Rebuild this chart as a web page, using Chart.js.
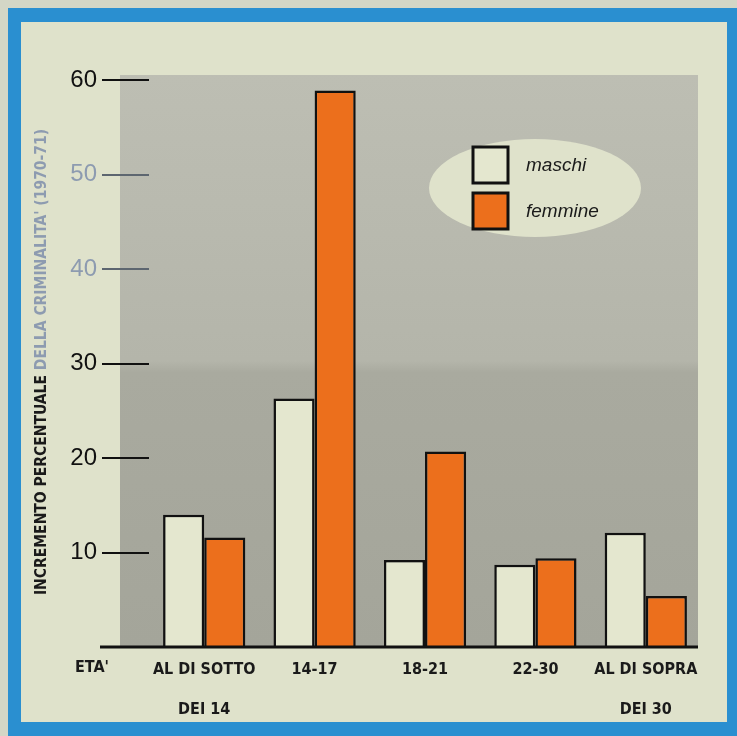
<!DOCTYPE html>
<html>
<head>
<meta charset="utf-8">
<script src="https://cdn.jsdelivr.net/npm/chart.js@4.4.1/dist/chart.umd.min.js"></script>
<style>
    html, body { margin: 0; padding: 0; background: #2a8fd0; }
    #wrap { width: 737px; height: 736px; }
</style>
</head>
<body>
<div id="wrap"><canvas id="crimeChart" width="737" height="736"></canvas></div>
<script>
// Age groups (two-line labels as printed)
const ageGroups = [
    ['AL DI SOTTO', 'DEI 14'],
    ['14-17'],
    ['18-21'],
    ['22-30'],
    ['AL DI SOPRA', 'DEI 30']
];

// Percentage increase 1970-71
const maschi = [14.0, 26.3, 9.2, 8.7, 12.1];
const femmine = [11.6, 58.9, 20.7, 9.4, 5.4];

const yTicks = [10, 20, 30, 40, 50, 60];
const fadedTicks = [40, 50];

const condensed = "'Liberation Sans Narrow', 'DejaVu Sans Condensed', 'DejaVu Sans', sans-serif";

/**
 * Paper, frame, grey panel, baseline, legend and side texts
 */
const paperPlugin = {
    id: 'paper',
    beforeDraw(chart) {
        const { ctx, chartArea, scales } = chart;
        const w = chart.width, h = chart.height;
        ctx.save();
        // outer edge + blue frame
        ctx.fillStyle = '#d3d6c6';
        ctx.fillRect(0, 0, w, h);
        ctx.fillStyle = '#2a8fd0';
        ctx.fillRect(8, 8, w - 8, h - 8);
        ctx.fillStyle = '#dfe2cb';
        ctx.fillRect(21, 22, 706, 700);

        // grey panel behind the bars
        const y0 = scales.y.getPixelForValue(0);
        const top = chartArea.top - 5;
        const grad = ctx.createLinearGradient(0, top, 0, y0);
        grad.addColorStop(0, '#bdbeb3');
        grad.addColorStop(0.5, '#b4b5aa');
        grad.addColorStop(0.52, '#a9aa9f');
        grad.addColorStop(1, '#a4a59a');
        ctx.fillStyle = grad;
        ctx.fillRect(chartArea.left - 29, top, chartArea.right - 3 - (chartArea.left - 29), y0 - top);
        ctx.restore();
    },
    afterDraw(chart) {
        const { ctx, chartArea, scales } = chart;
        const y0 = scales.y.getPixelForValue(0);
        ctx.save();

        // baseline
        ctx.strokeStyle = '#111';
        ctx.lineWidth = 3;
        ctx.beginPath();
        ctx.moveTo(chartArea.left - 49, y0);
        ctx.lineTo(chartArea.right - 3, y0);
        ctx.stroke();

        // ETA' label
        ctx.fillStyle = '#1a1a1a';
        ctx.font = 'bold 16px ' + condensed;
        ctx.textAlign = 'center';
        ctx.textBaseline = 'middle';
        ctx.fillText("ETA'", 92, 668);

        // y title, partly faded on the paper
        ctx.translate(42, 362);
        ctx.rotate(-Math.PI / 2);
        ctx.font = 'bold 15.5px ' + condensed;
        const partA = 'INCREMENTO PERCENTUALE ';
        const partB = "DELLA CRIMINALITA' (1970-71)";
        const wa = ctx.measureText(partA).width;
        const wb = ctx.measureText(partB).width;
        const start = -(wa + wb) / 2;
        ctx.textAlign = 'left';
        ctx.fillStyle = '#1a1a1a';
        ctx.fillText(partA, start, 0);
        ctx.fillStyle = '#8d9bb0';
        ctx.fillText(partB, start + wa, 0);
        ctx.restore();

        // legend ellipse
        ctx.save();
        ctx.fillStyle = '#dfe2cb';
        ctx.beginPath();
        ctx.ellipse(535, 188, 106, 49, 0, 0, Math.PI * 2);
        ctx.fill();
        const items = chart.data.datasets;
        items.forEach((ds, i) => {
            const y = 147 + i * 46;
            ctx.fillStyle = ds.backgroundColor;
            ctx.fillRect(473, y, 35, 36);
            ctx.strokeStyle = '#111';
            ctx.lineWidth = 3;
            ctx.strokeRect(473, y, 35, 36);
            ctx.fillStyle = '#1a1a1a';
            ctx.font = 'italic 19px Liberation Sans, Arial, sans-serif';
            ctx.textAlign = 'left';
            ctx.textBaseline = 'middle';
            ctx.fillText(ds.label, 526, y + 19);
        });
        ctx.restore();
    }
};

const ctx = document.getElementById('crimeChart');

new Chart(ctx, {
    type: 'bar',
    data: {
        labels: ageGroups,
        datasets: [
            {
                label: 'maschi',
                data: maschi,
                backgroundColor: '#e4e7cf',
                borderColor: '#111',
                borderWidth: 2.5,
                borderSkipped: 'bottom'
            },
            {
                label: 'femmine',
                data: femmine,
                backgroundColor: '#ec6f1c',
                borderColor: '#111',
                borderWidth: 2.5,
                borderSkipped: 'bottom'
            }
        ]
    },
    options: {
        responsive: false,
        animation: false,
        devicePixelRatio: 1,
        layout: {
            padding: { top: 80, right: 36, bottom: 0, left: 0 }
        },
        datasets: {
            bar: {
                categoryPercentage: 0.745,
                barPercentage: 1.0
            }
        },
        plugins: {
            legend: { display: false },
            tooltip: { enabled: false }
        },
        scales: {
            x: {
                grid: { display: false },
                border: { display: false },
                ticks: {
                    color: '#1a1a1a',
                    padding: -5,
                    maxRotation: 0,
                    autoSkip: false,
                    font: { family: condensed, size: 16, weight: 'bold', lineHeight: 2.5 }
                },
                afterFit(scale) {
                    scale.height = 89;
                }
            },
            y: {
                min: 0,
                max: 60,
                afterBuildTicks(scale) {
                    scale.ticks = [0].concat(yTicks).map(v => ({ value: v }));
                },
                afterFit(scale) {
                    scale.width = 149;
                },
                border: { display: false },
                grid: {
                    drawOnChartArea: false,
                    tickLength: 47,
                    lineWidth: 2,
                    color: (c) => (c.tick && c.tick.value === 0) ? 'rgba(0,0,0,0)' :
                        (fadedTicks.includes(c.tick && c.tick.value) ? '#5d6670' : '#111')
                },
                ticks: {
                    padding: 5,
                    font: { family: 'Liberation Sans, Arial, sans-serif', size: 24 },
                    color: (c) => fadedTicks.includes(c.tick.value) ? '#8d9bb0' : '#111',
                    callback: (v) => v === 0 ? '' : v
                }
            }
        }
    },
    plugins: [paperPlugin]
});
</script>
</body>
</html>
